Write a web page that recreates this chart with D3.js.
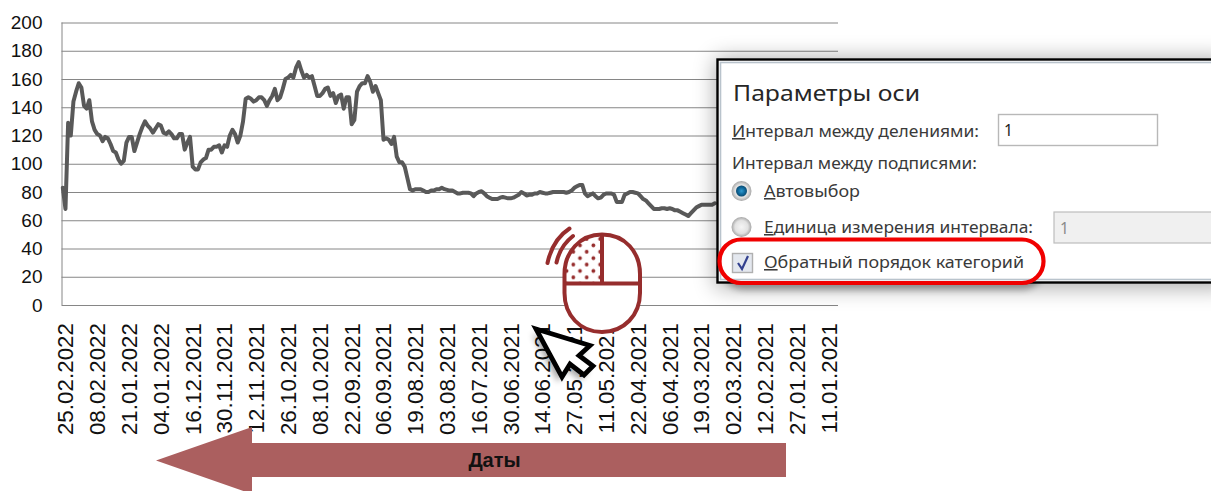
<!DOCTYPE html>
<html><head><meta charset="utf-8">
<script src="https://cdn.jsdelivr.net/npm/d3@7"></script>
<style>html,body{margin:0;padding:0;background:#fff;overflow:hidden}svg{display:block}</style>
</head><body><div id="c"></div>
<script>
const tickLabels = ["25.02.2022","08.02.2022","21.01.2022","04.01.2022","16.12.2021","30.11.2021","12.11.2021","26.10.2021","08.10.2021","22.09.2021","06.09.2021","19.08.2021","03.08.2021","16.07.2021","30.06.2021","14.06.2021","27.05.2021","11.05.2021","22.04.2021","06.04.2021","19.03.2021","02.03.2021","12.02.2021","27.01.2021","11.01.2021"];
const yTicks = [0,20,40,60,80,100,120,140,160,180,200];
const categoryCount = 293;
const labelEvery = 12;
const prices = [83,68,129,120,144,151,157,154,141,139,145,130,124,121,120,116,119,118,114,109,108,103,100,102,115,119,119,109,115,121,126,130,127,125,122,125,128,127,122,121,123,121,118,118,121,121,110,115,119,98,96,96,101,103,104,110,110,112,112,113,108,113,112,120,124,121,115,120,130,146,147,146,144,145,147,147,145,141,145,148,153,145,147,153,160,161,163,161,168,172,166,161,163,161,162,155,148,148,150,153,154,148,150,143,148,149,139,147,147,128,131,151,155,157,157,162,158,151,155,150,145,117,118,117,114,119,105,101,101,98,90,82,81,82,82,82,81,80,80,81,81,82,82,83,82,81.5,81,81,80,79,79,79.5,79.5,79.5,79,77,79,80,80.5,79,77,76,75,75,75,76,76.5,76,75.5,75.5,76,77,78,80,79,77.5,78,78,79,79,80,79.5,79,79,79.5,80,80,80,80,80,79.5,80,81,83,84,85,85,79,77,78,79,77,75.5,76,78,79,79,79,78,73,73,73,78,79,80,80,79.5,79,77,75,74,72,70,68,68,68,68.5,68.5,68,68.5,68,67,67,66,65,64,63,65,67,69,70,71,71,71,71,71,72];
const dialogTitle = "Параметры оси";
const dotColor = "#962d2d", arrowColor = "#ab5f5f";

const W=1211,H=491,L=61.5,R=838,T=22.5,B=305;
const svg=d3.select("#c").append("svg").attr("width",W).attr("height",H).attr("viewBox",`0 0 ${W} ${H}`);
const defs=svg.append("defs");
const blur=defs.append("filter").attr("id","sh").attr("x","-20%").attr("y","-30%").attr("width","140%").attr("height","160%");
blur.append("feGaussianBlur").attr("stdDeviation",11);
const blur2=defs.append("filter").attr("id","sh2").attr("x","-40%").attr("y","-40%").attr("width","180%").attr("height","180%");
blur2.append("feGaussianBlur").attr("stdDeviation",3);
const pat=defs.append("pattern").attr("id","dots").attr("patternUnits","userSpaceOnUse").attr("width",13.4).attr("height",12.8).attr("x",570).attr("y",236);
pat.append("circle").attr("cx",3.3).attr("cy",3).attr("r",1.9).attr("fill",dotColor);
pat.append("circle").attr("cx",10).attr("cy",9.4).attr("r",1.9).attr("fill",dotColor);
const rg=defs.append("radialGradient").attr("id","rb");
rg.append("stop").attr("offset","0%").attr("stop-color","#2f9bd0");
rg.append("stop").attr("offset","60%").attr("stop-color","#10699c");
rg.append("stop").attr("offset","100%").attr("stop-color","#0b4a70");
const rg2=defs.append("radialGradient").attr("id","rw");
rg2.append("stop").attr("offset","0%").attr("stop-color","#f5f5f5");
rg2.append("stop").attr("offset","65%").attr("stop-color","#e2e2e2");
rg2.append("stop").attr("offset","100%").attr("stop-color","#a6a6a6");

const x=d3.scaleBand().domain(d3.range(categoryCount)).range([L,R]);
const y=d3.scaleLinear().domain([0,200]).range([B,T]);
const gridColor="#868686";
const font="'Liberation Sans',Arial,sans-serif";

const gy=svg.append("g").attr("transform",`translate(${L},0)`)
 .call(d3.axisLeft(y).tickValues(yTicks).tickSize(-(R-L)).tickPadding(19).tickFormat(d3.format("d")));
gy.selectAll("line").attr("stroke",gridColor).attr("stroke-width",1);
gy.select(".domain").attr("stroke",gridColor).attr("d",`M0.5,${T}V${B}`);
gy.selectAll("text").attr("font-family",font).attr("font-size",19).attr("fill","#111");

const gx=svg.append("g").attr("transform",`translate(0,${B})`)
 .call(d3.axisBottom(x).tickValues(tickLabels.map((_,i)=>i*labelEvery)).tickSize(0).tickFormat(i=>tickLabels[i/labelEvery]));
gx.select(".domain").remove();
gx.selectAll("text").attr("font-family",font).attr("font-size",22.4).attr("fill","#111")
 .attr("text-anchor","end").attr("transform","rotate(-90)")
 .attr("x",-18).attr("y",0).attr("dy","0.36em")
 .attr("dx",0);
gx.selectAll(".tick").attr("transform",function(d){return `translate(${x(d)+x.bandwidth()/2+2.5},0)`;});

svg.append("path").datum(prices).attr("fill","none").attr("stroke","#595959").attr("stroke-width",4)
 .attr("stroke-linejoin","round").attr("stroke-linecap","round")
 .attr("d",d3.line().x((d,i)=>x(i)+x.bandwidth()/2).y(d=>y(d)));

// date arrow
svg.append("path").attr("fill",arrowColor)
 .attr("d","M156,460.5L252,427V443H786V477H252V494Z");
svg.append("text").attr("x",494.5).attr("y",467).attr("text-anchor","middle")
 .attr("font-family",font).attr("font-weight","bold").attr("font-size",20).attr("fill","#111").text("Даты");

// mouse icon
const mouse=svg.append("g");
const body="M602,234.5C625,234.5 640,252 640,274V293C640,315 624,332 602,332C580,332 564.5,315 564.5,293V274C564.5,252 580,234.5 602,234.5Z";
mouse.append("path").attr("d",body).attr("fill","#fff");
mouse.append("path").attr("d","M602,234.5C580,234.5 564.5,252 564.5,274V283.5H602Z").attr("fill","url(#dots)");
mouse.append("path").attr("d",body).attr("fill","none").attr("stroke",dotColor).attr("stroke-width",4);
mouse.append("path").attr("d","M602,234.5V283.5M564.5,283.5H640").attr("fill","none").attr("stroke",dotColor).attr("stroke-width",4);
mouse.append("path").attr("d","M547.5,263C551,247 558,236 569.5,228.5M556.5,262.5C559,251 564,243 573,236").attr("fill","none").attr("stroke",dotColor).attr("stroke-width",4).attr("stroke-linecap","round");

// cursor
const cur="M536,329L590,345.5L579,355.5L593,366L584,375L570,364L562,377Z";
svg.append("path").attr("d",cur).attr("transform","translate(-4,5)").attr("fill","#000").attr("opacity",.35).attr("filter","url(#sh2)");
svg.append("path").attr("d",cur).attr("fill","#fff").attr("stroke","#000").attr("stroke-width",4.8).attr("stroke-linejoin","miter");

// dialog shadows, then dialog
const dx=717.5,dy=59.5,dw=W-dx+20,dh=223;
svg.append("rect").attr("x",dx-2).attr("y",dy-1).attr("width",dw).attr("height",dh+6).attr("fill","#000").attr("opacity",.34).attr("filter","url(#sh)");
svg.append("rect").attr("x",722).attr("y",246).attr("width",322).attr("height",44).attr("rx",22).attr("fill","#000").attr("opacity",.3).attr("filter","url(#sh2)");
svg.append("rect").attr("x",dx).attr("y",dy).attr("width",dw).attr("height",dh).attr("fill","#fff").attr("stroke","#000").attr("stroke-width",2.4);
svg.append("rect").attr("x",dx+3).attr("y",dy+3).attr("width",dw).attr("height",dh-6).attr("fill","#fff").attr("stroke","#b9c3cc").attr("stroke-width",1.6);

const uiFont="'Noto Sans','Open Sans',sans-serif", txt="#3a3a3a";
function label(xp,yp,first,rest,size,len,color){
  const t=svg.append("text").attr("x",xp).attr("y",yp).attr("font-family",uiFont).attr("font-size",size).attr("fill",color||txt)
    .attr("textLength",len).attr("lengthAdjust","spacingAndGlyphs");
  if(first) t.append("tspan").attr("text-decoration","underline").text(first);
  t.append("tspan").text(rest);
}
label(733,101,"",dialogTitle,22,187,"#262626");
label(732,137,"И","нтервал между делениями:",15.5,247);
label(732,169,"","Интервал между подписями:",15.5,245);
label(764,197,"А","втовыбор",15.5,96);
label(764,233,"Е","диница измерения интервала:",15.5,269);
label(764,268,"О","братный порядок категорий",15.5,260);

svg.append("rect").attr("x",998.5).attr("y",114.5).attr("width",159).attr("height",31).attr("fill","#fff").attr("stroke","#b8b8b8").attr("stroke-width",1.4);
svg.append("text").attr("x",1004).attr("y",136).attr("font-family",uiFont).attr("font-size",15.5).attr("fill","#222").text("1");
svg.append("rect").attr("x",1054).attr("y",212).attr("width",170).attr("height",31).attr("fill","#f0f0f0").attr("stroke","#bdbdbd").attr("stroke-width",1.2);
svg.append("text").attr("x",1060).attr("y",234).attr("font-family",uiFont).attr("font-size",15.5).attr("fill","#8a8a8a").text("1");

svg.append("circle").attr("cx",741.5).attr("cy",191).attr("r",10).attr("fill","url(#rw)");
svg.append("circle").attr("cx",741.5).attr("cy",191).attr("r",5.5).attr("fill","url(#rb)");
svg.append("circle").attr("cx",741.5).attr("cy",227).attr("r",10).attr("fill","url(#rw)");
svg.append("rect").attr("x",732.5).attr("y",253.5).attr("width",20).attr("height",19).attr("fill","#e4e8ef").attr("stroke","#b0b0b0").attr("stroke-width",1.4);
svg.append("path").attr("d","M738,263L742,269L748,256").attr("fill","none").attr("stroke","#33418f").attr("stroke-width",2.2);

// highlight ring
svg.append("rect").attr("x",719.5).attr("y",239.5).attr("width",324).attr("height",43.5).attr("rx",21.5).attr("fill","none").attr("stroke","#f00000").attr("stroke-width",4.2);
</script></body></html>
